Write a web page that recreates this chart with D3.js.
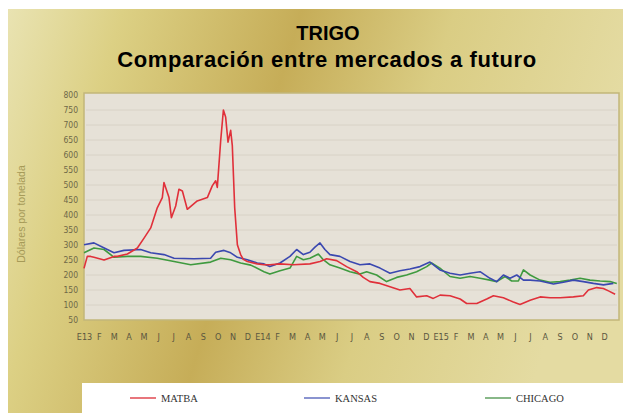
<!DOCTYPE html>
<html>
<head>
<meta charset="utf-8">
<script src="https://cdn.jsdelivr.net/npm/d3@7"></script>
<style>
  html, body { margin: 0; padding: 0; background: #ffffff; }
  svg { display: block; }
</style>
</head>
<body>
<svg id="chart" width="623" height="413"></svg>
<script>
// months counted from Jan 2013, price in USD per tonne
const matba = [
    [0, 222], [0.22, 262], [0.45, 262], [0.67, 259], [1.35, 250], [2.02, 262], [2.24, 262],
    [2.92, 270], [3.59, 290], [4.04, 323], [4.49, 357], [4.93, 424], [5.27, 458], [5.38, 508],
    [5.72, 458], [5.88, 391], [6.17, 430], [6.39, 486], [6.62, 480], [6.95, 419], [7.62, 447],
    [8.30, 458], [8.63, 497], [8.86, 514], [8.97, 492], [9.2, 649], [9.38, 750], [9.53, 727],
    [9.69, 643], [9.87, 682], [9.98, 631], [10.14, 424], [10.32, 301], [10.54, 268], [10.72, 252],
    [10.99, 245], [11.66, 237], [12.11, 234], [12.51, 234], [13.19, 237], [14.08, 234], [15.2, 237],
    [15.88, 245], [16.33, 254], [17.0, 248], [17.67, 228], [18.35, 211], [18.79, 192], [19.24, 178],
    [19.92, 172], [20.59, 161], [21.26, 150], [21.93, 155], [22.38, 127], [23.06, 131], [23.5, 122],
    [23.96, 133], [24.63, 131], [25.31, 120], [25.75, 105], [26.43, 105], [27.1, 120], [27.55, 131],
    [28.22, 124], [28.89, 110], [29.34, 102], [30.02, 116], [30.69, 127], [31.36, 124], [32.04, 124],
    [32.93, 127], [33.6, 131], [33.94, 150], [34.5, 158], [34.95, 155], [35.29, 147], [35.74, 136]
];

const kansas = [
    [0, 301], [0.67, 307], [1.12, 296], [2.02, 274], [2.69, 282], [3.81, 285], [4.49, 274],
    [5.38, 268], [6.06, 256], [7.40, 254], [8.52, 256], [8.86, 276], [9.42, 282], [9.87, 274],
    [10.32, 259], [10.99, 251], [11.66, 240], [12.11, 237], [12.51, 228], [13.19, 240], [13.86, 262],
    [14.31, 285], [14.76, 268], [15.2, 276], [15.54, 293], [15.88, 307], [16.21, 285], [16.55, 268],
    [17.22, 262], [17.90, 245], [18.57, 234], [19.24, 237], [19.92, 223], [20.59, 206], [21.26, 214],
    [21.93, 220], [22.61, 228], [23.28, 243], [23.95, 217], [24.63, 206], [25.31, 200], [25.98, 206],
    [26.65, 211], [27.32, 189], [27.77, 178], [28.22, 200], [28.67, 189], [29.12, 200], [29.57, 183],
    [30.02, 183], [30.69, 180], [31.59, 170], [32.26, 176], [32.93, 183], [33.6, 178], [34.28, 172],
    [34.95, 167], [35.62, 172]
];

const chicago = [
    [0, 274], [0.67, 290], [1.35, 285], [2.02, 259], [2.92, 262], [3.81, 262], [4.93, 256],
    [6.06, 245], [7.18, 234], [8.52, 243], [9.20, 256], [9.87, 251], [10.54, 240], [11.22, 233],
    [12.11, 211], [12.51, 203], [13.19, 214], [13.86, 223], [14.31, 262], [14.76, 251], [15.2, 256],
    [15.77, 270], [16.10, 251], [16.55, 234], [17.22, 223], [17.90, 211], [18.57, 203], [19.02, 211],
    [19.69, 200], [20.36, 178], [21.04, 192], [21.71, 200], [22.38, 211], [23.06, 228], [23.39, 240],
    [23.95, 223], [24.63, 195], [25.31, 189], [25.98, 195], [26.65, 189], [27.32, 183], [27.77, 178],
    [28.33, 195], [28.78, 180], [29.23, 180], [29.57, 217], [30.02, 200], [30.69, 183], [31.36, 176],
    [32.04, 178], [32.71, 183], [33.38, 189], [34.05, 183], [34.73, 180], [35.4, 178], [35.85, 172]
];

const monthLabels = [
    'E13', 'F', 'M', 'A', 'M', 'J', 'J', 'A', 'S', 'O', 'N', 'D',
    'E14', 'F', 'M', 'A', 'M', 'J', 'J', 'A', 'S', 'O', 'N', 'D',
    'E15', 'F', 'M', 'A', 'M', 'J', 'J', 'A', 'S', 'O', 'N', 'D'
];

const yTicks = [50, 100, 150, 200, 250, 300, 350, 400, 450, 500, 550, 600, 650, 700, 750, 800];

const seriesNames = ['MATBA', 'KANSAS', 'CHICAGO'];
const seriesColors = ['#e0303a', '#3b48b0', '#3f9a3f'];
const legendColors = ['#e8767c', '#8a94d0', '#88b888'];

const svg = d3.select('#chart');
const defs = svg.append('defs');

const bg = defs.append('linearGradient')
    .attr('id', 'gold')
    .attr('x1', '0%').attr('y1', '0%')
    .attr('x2', '100%').attr('y2', '20%');
[['0%', '#e9e3b2'], ['18%', '#dcd084'], ['46%', '#c6ad58'], ['70%', '#dacd84'], ['100%', '#e4dba2']]
    .forEach(s => bg.append('stop').attr('offset', s[0]).attr('stop-color', s[1]));

svg.append('rect')
    .attr('x', 8).attr('y', 9)
    .attr('width', 615).attr('height', 404)
    .attr('fill', 'url(#gold)');

// titles
svg.append('text')
    .attr('x', 328).attr('y', 40)
    .attr('text-anchor', 'middle')
    .attr('font-family', 'Liberation Sans, Arial, sans-serif')
    .attr('font-weight', 'bold')
    .attr('font-size', 20)
    .attr('fill', '#000')
    .text('TRIGO');

svg.append('text')
    .attr('x', 327).attr('y', 67)
    .attr('text-anchor', 'middle')
    .attr('font-family', 'Liberation Sans, Arial, sans-serif')
    .attr('font-weight', 'bold')
    .attr('font-size', 22)
    .attr('letter-spacing', 0.6)
    .attr('fill', '#000')
    .text('Comparación entre mercados a futuro');

const plot = { left: 84, right: 619, top: 93, bottom: 320 };

const x = d3.scaleLinear().domain([0, 36]).range([plot.left, plot.right]);
const y = d3.scaleLinear().domain([50, 800]).range([320, 95]);

svg.append('rect')
    .attr('x', plot.left).attr('y', plot.top)
    .attr('width', plot.right - plot.left).attr('height', plot.bottom - plot.top)
    .attr('fill', '#e6e1d7')
    .attr('stroke', '#c2b67a')
    .attr('stroke-width', 1.5);

// faint grid
svg.append('g')
    .selectAll('line')
    .data(yTicks.slice(1, -1))
    .enter()
    .append('line')
    .attr('x1', plot.left + 2).attr('x2', plot.right - 2)
    .attr('y1', d => y(d)).attr('y2', d => y(d))
    .attr('stroke', '#d8d2c6')
    .attr('stroke-width', 1);

// y axis labels
const yAxis = d3.axisLeft(y).tickValues(yTicks).tickSize(0).tickPadding(0);
svg.append('g')
    .attr('transform', 'translate(78,0)')
    .call(yAxis)
    .call(g => g.select('.domain').remove())
    .selectAll('text')
    .attr('font-family', 'Liberation Sans Narrow, DejaVu Sans Condensed, sans-serif')
    .attr('font-size', 8.5)
    .attr('fill', '#6e6848');

svg.append('text')
    .attr('transform', 'translate(25,214) rotate(-90)')
    .attr('text-anchor', 'middle')
    .attr('font-family', 'Liberation Sans, Arial, sans-serif')
    .attr('font-size', 10.5)
    .attr('fill', '#a69a58')
    .text('Dólares por tonelada');

// x axis labels
const xAxis = d3.axisBottom(x)
    .tickValues(d3.range(36))
    .tickFormat(i => monthLabels[i])
    .tickSize(0)
    .tickPadding(0);
svg.append('g')
    .attr('transform', 'translate(0,334)')
    .call(xAxis)
    .call(g => g.select('.domain').remove())
    .selectAll('text')
    .attr('font-family', 'Liberation Sans Narrow, DejaVu Sans Condensed, sans-serif')
    .attr('font-size', 9)
    .attr('fill', '#5a5640');

// lines
const line = d3.line()
    .x(d => x(d[0]))
    .y(d => y(d[1]));

const seriesData = [chicago, kansas, matba];
const seriesOrder = [2, 1, 0];
svg.append('g')
    .selectAll('path')
    .data(seriesData)
    .enter()
    .append('path')
    .attr('d', d => line(d))
    .attr('fill', 'none')
    .attr('stroke', (d, i) => seriesColors[seriesOrder[i]])
    .attr('stroke-width', 1.6)
    .attr('stroke-linejoin', 'round');

// legend
svg.append('rect')
    .attr('x', 82).attr('y', 383)
    .attr('width', 541).attr('height', 30)
    .attr('fill', '#ffffff');

const legendX = [130, 304, 485];
const legend = svg.append('g')
    .selectAll('g')
    .data(seriesNames)
    .enter()
    .append('g')
    .attr('transform', (d, i) => `translate(${legendX[i]},398)`);

legend.append('line')
    .attr('x1', 0).attr('x2', 26)
    .attr('y1', 0).attr('y2', 0)
    .attr('stroke', (d, i) => legendColors[i])
    .attr('stroke-width', 2);

legend.append('text')
    .attr('x', 31).attr('y', 3.5)
    .attr('font-family', 'Liberation Serif, DejaVu Serif, serif')
    .attr('font-size', 10.5)
    .attr('fill', '#333')
    .text(d => d);
</script>
</body>
</html>
